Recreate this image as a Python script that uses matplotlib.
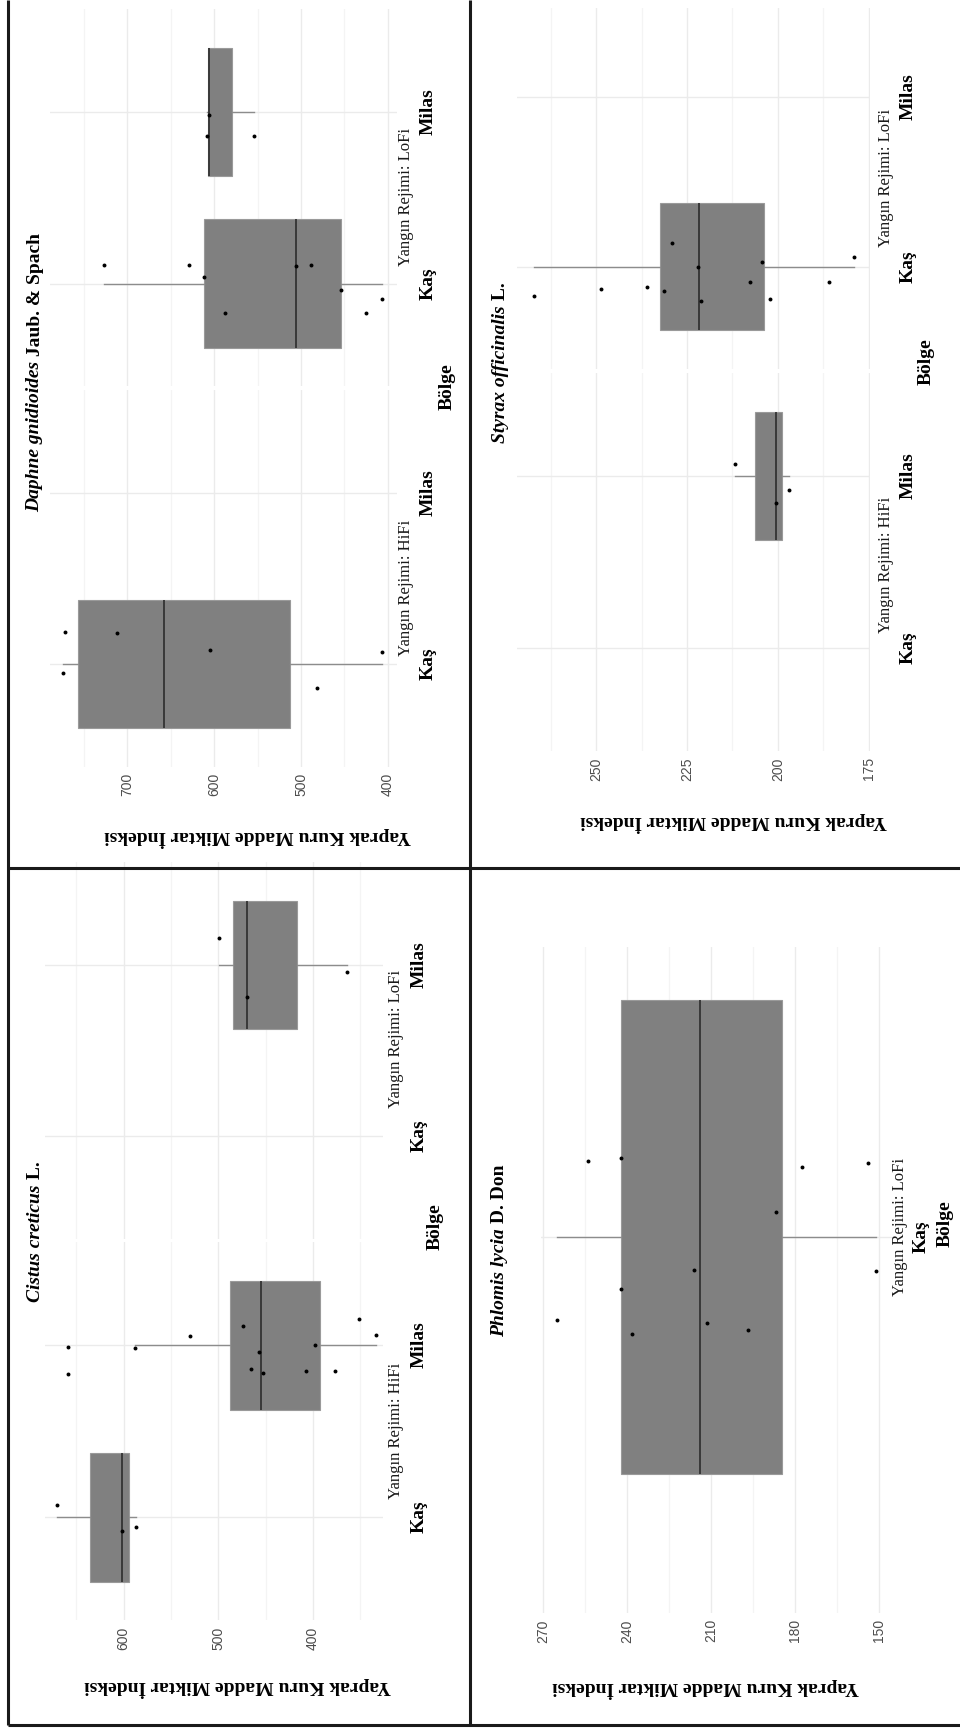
import matplotlib
matplotlib.use("Agg")
import matplotlib.pyplot as plt
from matplotlib.lines import Line2D
from matplotlib.transforms import blended_transform_factory

W, H, DPI = 960, 1736, 100
SERIF = "Liberation Serif"
SANS = "Liberation Sans"

# ---------------- data ----------------
regions = ["Kaş", "Milas"]
value_label = "Yaprak Kuru Madde Miktar İndeksi"
region_title = "Bölge"
regime_lofi = "Yangın Rejimi: LoFi"
regime_hifi = "Yangın Rejimi: HiFi"

# five-number boxes are [whisker low, Q1, median, Q3, whisker high]
# Daphne gnidioides
daphne_ticks = [400, 500, 600, 700]
daphne_lofi_kas = [727.2, 629.5, 611.5, 587.4, 505.7, 488.9, 454.0, 425.7, 406.6]
daphne_lofi_kas_jitter = [0.11, 0.11, 0.04, -0.17, 0.10, 0.11, -0.04, -0.17, -0.09]
daphne_lofi_kas_box = [406.6, 454.0, 505.7, 611.5, 727.2]
daphne_lofi_milas = [605.7, 607.7, 554.0]
daphne_lofi_milas_jitter = [-0.02, -0.14, -0.14]
daphne_lofi_milas_box = [554.0, 579.9, 605.7, 606.7, 607.7]
daphne_hifi_kas = [772.0, 711.8, 604.6, 774.4, 406.6, 482.0]
daphne_hifi_kas_jitter = [0.19, 0.18, 0.08, -0.05, 0.07, -0.14]
daphne_hifi_kas_box = [406.6, 512.6, 658.2, 757.0, 774.4]

# Cistus creticus
cistus_ticks = [400, 500, 600]
cistus_lofi_milas = [499.3, 470.0, 364.4]
cistus_lofi_milas_jitter = [0.16, -0.19, -0.04]
cistus_lofi_milas_box = [364.4, 417.2, 470.0, 484.7, 499.3]
cistus_hifi_kas = [670.3, 601.7, 586.9]
cistus_hifi_kas_jitter = [0.07, -0.08, -0.06]
cistus_hifi_kas_box = [586.9, 594.3, 601.7, 636.0, 670.3]
cistus_hifi_milas = [658.7, 658.7, 588.0, 529.9, 473.9, 457.0, 465.5, 452.8,
                     407.4, 397.9, 376.8, 351.4, 333.5]
cistus_hifi_milas_jitter = [-0.01, -0.17, -0.02, 0.05, 0.11, -0.04, -0.14, -0.16,
                            -0.15, 0.0, -0.15, 0.15, 0.06]
cistus_hifi_milas_box = [333.5, 392.6, 455.0, 487.6, 588.0]

# Styrax officinalis
styrax_ticks = [175, 200, 225, 250]
styrax_lofi_kas = [267.0, 248.7, 235.9, 231.2, 229.0, 222.0, 221.2, 207.6,
                   204.4, 202.2, 186.0, 179.0]
styrax_lofi_kas_jitter = [-0.17, -0.13, -0.12, -0.14, 0.14, 0.0, -0.20, -0.09,
                          0.03, -0.19, -0.09, 0.06]
styrax_lofi_kas_box = [179.0, 203.9, 221.6, 232.4, 267.0]
styrax_hifi_milas = [211.8, 200.6, 196.8]
styrax_hifi_milas_jitter = [0.07, -0.16, -0.08]
styrax_hifi_milas_box = [196.8, 198.7, 200.6, 206.2, 211.8]

# Phlomis lycia
phlomis_ticks = [150, 180, 210, 240, 270]
phlomis_lofi_kas = [253.8, 242.3, 177.6, 154.0, 186.9, 216.0, 151.1, 242.1,
                    265.1, 238.2, 211.5, 196.9]
phlomis_lofi_kas_jitter = [0.121, 0.125, 0.111, 0.117, 0.040, -0.052, -0.054,
                           -0.083, -0.132, -0.153, -0.136, -0.148]
phlomis_lofi_kas_box = [151.1, 184.6, 213.8, 242.2, 265.1]

# ---------------- drawing ----------------
fig = plt.figure(figsize=(W / DPI, H / DPI), dpi=DPI)
fig.patch.set_facecolor("white")

GRID_MAJOR = "#EBEBEB"
GRID_MINOR = "#F4F4F4"
BOX_FILL = "#808080"


def fx(px):
    return px / W


def fy(py):
    return 1 - py / H


def facet(x0, x1, y_top, y_bot, xlim, kas_y, unit_px, ticks, ncat=2,
          show_ticklabels=False):
    ax = fig.add_axes([fx(x0), fy(y_bot), (x1 - x0) / W, (y_bot - y_top) / H])
    ax.set_xlim(*xlim)
    ax.set_ylim(1 - (y_bot - kas_y) / unit_px, 1 + (kas_y - y_top) / unit_px)
    ax.set_facecolor("none")
    for s in ax.spines.values():
        s.set_visible(False)
    step = ticks[1] - ticks[0]
    lo, hi = min(xlim), max(xlim)
    minors = [t + step / 2 for t in [ticks[0] - step] + list(ticks)]
    minors = [m for m in minors if lo <= m <= hi]
    ax.set_xticks(ticks)
    ax.set_xticks(minors, minor=True)
    ax.set_yticks(list(range(1, ncat + 1)))
    ax.set_yticklabels([])
    ax.grid(which="major", color=GRID_MAJOR, linewidth=1.0)
    ax.grid(which="minor", axis="x", color=GRID_MINOR, linewidth=0.9)
    ax.set_axisbelow(True)
    ax.tick_params(which="both", length=0)
    if show_ticklabels:
        ax.set_xticklabels([str(t) for t in ticks], rotation=90, fontsize=10,
                           color="#4D4D4D", family=SANS)
        ax.tick_params(axis="x", pad=4.5)
    else:
        ax.set_xticklabels([])
    return ax


def box(ax, pos, five, values, jitter):
    lo, q1, med, q3, hi = five
    stats = [dict(whislo=lo, q1=q1, med=med, q3=q3, whishi=hi, fliers=[])]
    kw = dict(positions=[pos], widths=0.75, patch_artist=True,
              showfliers=False, showcaps=False, manage_ticks=False,
              boxprops=dict(facecolor=BOX_FILL, edgecolor="#9A9A9A", linewidth=0.8),
              whiskerprops=dict(color="#8C8C8C", linewidth=1.0),
              medianprops=dict(color="#333333", linewidth=1.3))
    try:
        ax.bxp(stats, orientation="horizontal", **kw)
    except TypeError:
        ax.bxp(stats, vert=False, **kw)
    ax.scatter(values, [pos + j for j in jitter], s=8, color="black",
               linewidths=0, zorder=5)


def region_labels(ax, x_px, ncat=2):
    tr = blended_transform_factory(fig.transFigure, ax.transData)
    for i in range(ncat):
        fig.text(fx(x_px), i + 1, regions[i], transform=tr, rotation=90,
                 ha="center", va="center", fontsize=14, fontweight="bold",
                 family=SERIF, color="black")


def rot_text(x_px, y_px, s, **kw):
    base = dict(rotation=90, ha="center", va="center", family=SERIF)
    base.update(kw)
    return fig.text(fx(x_px), fy(y_px), s, **base)


def title(x_px, y_start_px, italic_part, plain_part):
    t1 = fig.text(fx(x_px), fy(y_start_px), italic_part, rotation=90,
                  rotation_mode="anchor", ha="left", va="center", family=SERIF,
                  fontstyle="italic", fontweight="bold", fontsize=14)
    bb = t1.get_window_extent(fig.canvas.get_renderer())
    fig.text(fx(x_px), bb.y1 / H, " " + plain_part, rotation=90,
             rotation_mode="anchor", ha="left", va="center", family=SERIF,
             fontweight="bold", fontsize=14)


def value_title(x_px, y_px):
    fig.text(fx(x_px), fy(y_px), value_label, rotation=180, ha="center",
             va="center", family=SERIF, fontweight="bold", fontsize=14)


# --- Daphne gnidioides (top left) ---
ax = facet(50, 397, 9, 386, (789, 389.5), 283.5, 171.5, daphne_ticks)
box(ax, 1, daphne_lofi_kas_box, daphne_lofi_kas, daphne_lofi_kas_jitter)
box(ax, 2, daphne_lofi_milas_box, daphne_lofi_milas, daphne_lofi_milas_jitter)
region_labels(ax, 428)
ax = facet(50, 397, 390, 767, (789, 389.5), 664, 171, daphne_ticks,
           show_ticklabels=True)
box(ax, 1, daphne_hifi_kas_box, daphne_hifi_kas, daphne_hifi_kas_jitter)
region_labels(ax, 428)
rot_text(406.5, 197, regime_lofi, fontsize=12, color="#1A1A1A")
rot_text(406.5, 588, regime_hifi, fontsize=12, color="#1A1A1A")
rot_text(447, 387, region_title, fontsize=14, fontweight="bold")
title(35, 512, "Daphne gnidioides", "Jaub. & Spach")
value_title(258, 837)

# --- Cistus creticus (bottom left) ---
ax = facet(45, 383, 862, 1239, (683.0, 326.1), 1136, 171, cistus_ticks)
box(ax, 2, cistus_lofi_milas_box, cistus_lofi_milas, cistus_lofi_milas_jitter)
region_labels(ax, 419.5)
ax = facet(45, 383, 1242, 1620, (683.0, 326.1), 1517, 172, cistus_ticks,
           show_ticklabels=True)
box(ax, 1, cistus_hifi_kas_box, cistus_hifi_kas, cistus_hifi_kas_jitter)
box(ax, 2, cistus_hifi_milas_box, cistus_hifi_milas, cistus_hifi_milas_jitter)
region_labels(ax, 419.5)
rot_text(396.5, 1039, regime_lofi, fontsize=12, color="#1A1A1A")
rot_text(396.5, 1431, regime_hifi, fontsize=12, color="#1A1A1A")
rot_text(435.5, 1227, region_title, fontsize=14, fontweight="bold")
title(35.5, 1302, "Cistus creticus", "L.")
value_title(238, 1687)

# --- Styrax officinalis (top right) ---
ax = facet(517, 870, 8, 369, (271.8, 174.6), 266.7, 170, styrax_ticks)
box(ax, 1, styrax_lofi_kas_box, styrax_lofi_kas, styrax_lofi_kas_jitter)
region_labels(ax, 908.5)
ax = facet(517, 870, 373, 751, (271.8, 174.6), 647.7, 171.7, styrax_ticks,
           show_ticklabels=True)
box(ax, 2, styrax_hifi_milas_box, styrax_hifi_milas, styrax_hifi_milas_jitter)
region_labels(ax, 908.5)
rot_text(886.5, 178, regime_lofi, fontsize=12, color="#1A1A1A")
rot_text(886.5, 565, regime_hifi, fontsize=12, color="#1A1A1A")
rot_text(926.5, 362, region_title, fontsize=14, fontweight="bold")
title(500, 443, "Styrax officinalis", "L.")
value_title(734, 822)

# --- Phlomis lycia (bottom right) ---
ax = facet(541, 895, 947, 1613, (270.7, 144.3), 1237, 631, phlomis_ticks,
           ncat=1, show_ticklabels=True)
box(ax, 1, phlomis_lofi_kas_box, phlomis_lofi_kas, phlomis_lofi_kas_jitter)
region_labels(ax, 921.5, ncat=1)
rot_text(900, 1227, regime_lofi, fontsize=12, color="#1A1A1A")
rot_text(945, 1224, region_title, fontsize=14, fontweight="bold")
title(499.5, 1337, "Phlomis lycia", "D. Don")
value_title(706, 1688)

# --- panel frame ---
frame = dict(color="#1A1A1A", linewidth=2.2, transform=fig.transFigure,
             solid_capstyle="butt")
for x in (8, 470):
    fig.add_artist(Line2D([fx(x), fx(x)], [fy(0), fy(1725)], **frame))
for y in (868, 1725):
    fig.add_artist(Line2D([fx(8), fx(960)], [fy(y), fy(y)], **frame))

fig.savefig("out.png", dpi=DPI, facecolor="white")
